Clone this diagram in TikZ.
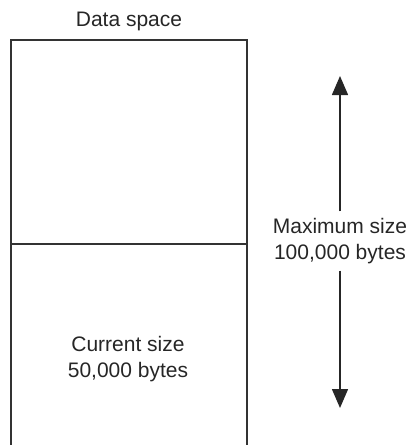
\documentclass[tikz,border=0pt]{standalone}
\usepackage{fontspec}
\setmainfont{Liberation Sans}
\usetikzlibrary{arrows.meta}

\begin{document}
\begin{tikzpicture}[x=1pt,y=-1pt,
    lbl/.style={align=center, text=black!85, font=\fontsize{21}{25.5}\selectfont},
    wall/.style={line width=1.6pt, black!80},
    sizearrow/.style={line width=1.5pt, black!85, -{Triangle[length=19pt,width=16pt]}}]
    \useasboundingbox (0,0) rectangle (414,445);
    % data space, open at the bottom
    \coordinate (bl) at (11,446);
    \coordinate (tl) at (11,40);
    \coordinate (tr) at (247,40);
    \coordinate (br) at (247,446);
    \coordinate (ml) at (11,244);
    \coordinate (mr) at (247,244);
    \draw[wall] (bl) -- (tl) -- (tr) -- (br);
    \draw[wall] (ml) -- (mr);
    \node[lbl] (title) at (129,21) {Data space};
    \node[lbl] (cur) at (128,359) {Current size\\50,000 bytes};
    % maximum size arrow
    \node[lbl, inner sep=7pt] (max) at (340,241) {Maximum size\\100,000 bytes};
    \coordinate (maxtop) at (340,76);
    \coordinate (maxbot) at (340,408);
    \draw[sizearrow] (max.north) -- (maxtop);
    \draw[sizearrow] (max.south) -- (maxbot);
\end{tikzpicture}
\end{document}
